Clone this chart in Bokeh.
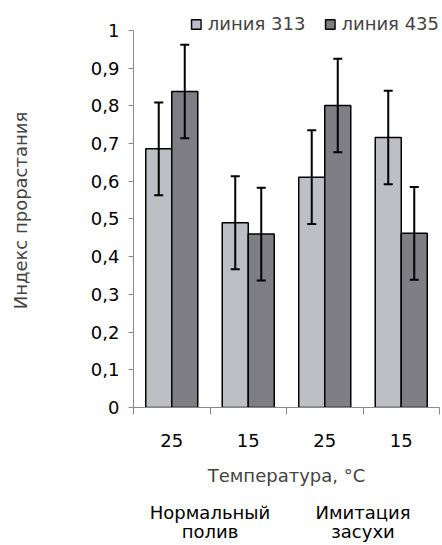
from bokeh.plotting import figure
from bokeh.models import (Range1d, FixedTicker, CustomJSTickFormatter, Whisker, TeeHead,
                          ColumnDataSource, Legend, LegendItem, LinearAxis)
from bokeh.embed import file_html
from bokeh.resources import INLINE

# ---- data ----
temps = ["25", "15", "25", "15"]
group_lines = [["Нормальный", "полив"], ["Имитация", "засухи"]]
series_names = ["линия 313", "линия 435"]
line313 = [0.686, 0.490, 0.611, 0.716]
line435 = [0.838, 0.460, 0.801, 0.462]
err313 = [0.123, 0.123, 0.124, 0.124]
err435 = [0.124, 0.123, 0.124, 0.123]
y_ticks = [0, 0.1, 0.2, 0.3, 0.4, 0.5, 0.6, 0.7, 0.8, 0.9, 1]

FONT = "DejaVu Sans"
FS = "18px"
AXIS_COL = "#8a8a8a"
colors = ["#BEBFC4", "#7E7E84"]
offset = 0.17
bar_w = 0.34

# frame: y=1 at 30px, y=0 at 408px; top of frame at 13px => y_end = 395/378
p = figure(width=442, height=545, x_range=Range1d(0, len(temps)), y_range=Range1d(0, 395 / 378),
           output_backend="svg", toolbar_location=None,
           min_border_left=133, min_border_right=3, min_border_top=13, min_border_bottom=137)
p.xgrid.visible = False
p.ygrid.visible = False
p.outline_line_color = None

renderers = []
for k, (vals, errs) in enumerate([(line313, err313), (line435, err435)]):
    xs = [i + 0.5 + (k - 0.5) * 2 * offset for i in range(len(temps))]
    src = ColumnDataSource(dict(x=xs, top=vals,
                                lower=[v - e for v, e in zip(vals, errs)],
                                upper=[v + e for v, e in zip(vals, errs)]))
    r = p.vbar(x="x", top="top", bottom=0, width=bar_w, source=src,
               fill_color=colors[k], line_color="black", line_width=1.5)
    renderers.append(r)
    w = Whisker(source=src, base="x", lower="lower", upper="upper",
                line_color="black", line_width=2, level="annotation",
                upper_head=TeeHead(size=9, line_color="black", line_width=2),
                lower_head=TeeHead(size=9, line_color="black", line_width=2))
    p.add_layout(w)

# y axis
ya = p.yaxis[0]
ya.bounds = (0, 1)
ya.ticker = FixedTicker(ticks=y_ticks, minor_ticks=[])
ya.formatter = CustomJSTickFormatter(
    code="return (tick == 0 || tick == 1) ? tick.toFixed(0) : tick.toFixed(1).replace('.', ',');")
ya.major_tick_out = 5
ya.major_tick_in = 0
ya.axis_line_color = AXIS_COL
ya.major_tick_line_color = AXIS_COL
ya.major_label_standoff = 9
ya.major_label_text_font = FONT
ya.major_label_text_font_size = FS
ya.major_label_text_color = "black"
ya.axis_label = "Индекс прорастания"
ya.axis_label_text_font = FONT
ya.axis_label_text_font_size = FS
ya.axis_label_text_font_style = "normal"
ya.axis_label_standoff = 57

# x axis (temperatures)
xa = p.xaxis[0]
xa.ticker = FixedTicker(ticks=[i + 0.5 for i in range(len(temps))],
                        minor_ticks=list(range(len(temps) + 1)))
xa.formatter = CustomJSTickFormatter(args=dict(labels=temps),
                                     code="return labels[Math.floor(tick)];")
xa.major_tick_out = 0
xa.major_tick_in = 0
xa.minor_tick_out = 7
xa.minor_tick_in = 0
xa.axis_line_color = AXIS_COL
xa.minor_tick_line_color = AXIS_COL
xa.major_label_standoff = 19
xa.major_label_text_font = FONT
xa.major_label_text_font_size = FS
xa.major_label_text_color = "black"
xa.axis_label = "Температура, °C"
xa.axis_label_text_font = FONT
xa.axis_label_text_font_size = FS
xa.axis_label_text_font_style = "normal"
xa.axis_label_standoff = 15

# second x axis (treatment groups)
ga = LinearAxis(ticker=FixedTicker(ticks=[2 * g + 1 for g in range(len(group_lines))], minor_ticks=[]),
                formatter=CustomJSTickFormatter(args=dict(labels=["\n".join(l) for l in group_lines]),
                                                code="return labels[Math.floor(tick / 2)];"))
ga.axis_line_color = None
ga.major_tick_line_color = None
ga.major_tick_out = 0
ga.major_tick_in = 0
ga.minor_tick_out = 0
ga.major_label_standoff = 13
ga.major_label_text_font = FONT
ga.major_label_text_font_size = FS
ga.major_label_text_color = "black"
ga.major_label_text_line_height = 0.95
p.add_layout(ga, "below")

legend = Legend(items=[LegendItem(label=series_names[k], renderers=[renderers[k]]) for k in range(2)],
                orientation="horizontal", location="top_right",
                glyph_width=12, glyph_height=12, label_standoff=6, spacing=18,
                padding=0, margin=0, border_line_color=None, background_fill_alpha=0,
                label_text_font=FONT, label_text_font_size=FS)
p.add_layout(legend)

open("out.html", "w").write(file_html(p, INLINE))
